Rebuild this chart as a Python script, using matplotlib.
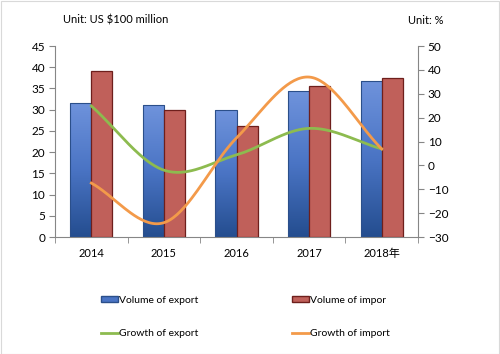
import numpy as np
import matplotlib
matplotlib.use("Agg")
import matplotlib.pyplot as plt
from matplotlib.patches import Rectangle
from matplotlib.lines import Line2D
from matplotlib.colors import LinearSegmentedColormap

plt.rcParams['font.family'] = ['Lato', 'Noto Sans CJK SC', 'DejaVu Sans']

years = ['2014', '2015', '2016', '2017', '2018年']
export_vol = [31.6, 31.1, 29.9, 34.4, 36.8]
import_vol = [39.1, 29.9, 26.1, 35.6, 37.5]
export_growth = [24.9, -2.0, 4.4, 15.5, 6.9]
import_growth = [-7.4, -24.0, 11.5, 37.0, 6.9]


def smooth(xs, ys, n=40):
    # Catmull-Rom style smoothing (like a spreadsheet "smoothed line")
    xs = np.asarray(xs, float); ys = np.asarray(ys, float)
    px = np.concatenate([[2*xs[0]-xs[1]], xs, [2*xs[-1]-xs[-2]]])
    py = np.concatenate([[2*ys[0]-ys[1]], ys, [2*ys[-1]-ys[-2]]])
    ox, oy = [], []
    for i in range(1, len(px)-2):
        t = np.linspace(0, 1, n)
        p0, p1, p2, p3 = [np.array([px[j], py[j]]) for j in (i-1, i, i+1, i+2)]
        m1 = (p2 - p0) / 2
        m2 = (p3 - p1) / 2
        h00 = 2*t**3 - 3*t**2 + 1
        h10 = t**3 - 2*t**2 + t
        h01 = -2*t**3 + 3*t**2
        h11 = t**3 - t**2
        pts = (np.outer(h00, p1) + np.outer(h10, m1) + np.outer(h01, p2) + np.outer(h11, m2))
        ox.extend(pts[:, 0]); oy.extend(pts[:, 1])
    return np.array(ox), np.array(oy)


fig = plt.figure(figsize=(5.0, 3.54), dpi=100)
ax = fig.add_axes([0.11, 0.3305, 0.726, 0.5395])
ax2 = ax.twinx()

x = np.arange(len(years))
w = 0.29
grey = '#868686'

grad = np.linspace(0, 1, 256).reshape(-1, 1)
bcmap = LinearSegmentedColormap.from_list('b', ['#244d8f', '#4a74c4', '#6f93dc'])
for xi, v in zip(x, export_vol):
    r = Rectangle((xi - w, 0), w, v, facecolor='none', edgecolor='#2b4f8a', lw=0.8, zorder=3)
    ax.add_patch(r)
    im = ax.imshow(grad, extent=[xi - w, xi, 0, v], origin='lower', cmap=bcmap,
                   aspect='auto', zorder=2)
    im.set_clip_path(r)
ax.bar(x + w/2, import_vol, w, color='#c0605a', edgecolor='#6e1f1c', lw=0.9, zorder=3)

ax.set_xlim(-0.5, len(years) - 0.5)
ax.set_ylim(0, 45)
ax.set_yticks(np.arange(0, 46, 5))
ax2.set_ylim(-30, 50)
ax2.set_yticks(np.arange(-30, 51, 10))

sx, sy = smooth(x, export_growth)
ax2.plot(sx, sy, color='#8dbb4f', lw=2.0, zorder=4)
sx, sy = smooth(x, import_growth)
ax2.plot(sx, sy, color='#f39a4a', lw=2.0, zorder=4)

ax.set_xticks(x)
ax.set_xticklabels(years)
ax.set_xticks(np.arange(-0.5, len(years), 1), minor=True)
ax.tick_params(axis='x', which='major', length=0, pad=8, labelsize=8)
ax.tick_params(axis='x', which='minor', length=4, color=grey)
ax.tick_params(axis='y', length=4, color=grey, labelsize=8.5, pad=3)
ax2.tick_params(axis='y', length=4, color=grey, labelsize=8.5, pad=3)

for a in (ax, ax2):
    a.spines['top'].set_visible(False)
    for s in ('left', 'right', 'bottom'):
        a.spines[s].set_color(grey)
ax2.spines['left'].set_visible(False)
ax.spines['right'].set_visible(False)
ax2.spines['bottom'].set_visible(False)
ax.set_zorder(1); ax2.set_zorder(2); ax2.patch.set_visible(False)

fig.text(63/500, 1 - 20/354, 'Unit: US $100 million', fontsize=8, va='center', ha='left')
fig.text(443/500, 1 - 20/354, 'Unit: %', fontsize=8, va='center', ha='right')

# legend (column-major order: first column export items, second column import items)
handles = [Rectangle((0, 0), 1, 1, facecolor='#4a74c4', edgecolor='#2b4f8a'),
           Line2D([], [], color='#8dbb4f', lw=2),
           Rectangle((0, 0), 1, 1, facecolor='#c0605a', edgecolor='#6e1f1c'),
           Line2D([], [], color='#f39a4a', lw=2)]
labels = ['Volume of export', 'Growth of export', 'Volume of impor', 'Growth of import']
leg = fig.legend(handles, labels, ncol=2, loc='center left', bbox_to_anchor=(92/500, 1 - 317/354),
                 frameon=False, fontsize=7.5, handlelength=1.6, handleheight=0.5,
                 handletextpad=0.1, columnspacing=9.0, labelspacing=2.3)

fig.patches.append(Rectangle((0.001, 0.001), 0.997, 0.997, transform=fig.transFigure,
                             fill=False, edgecolor='#d9d9d9', lw=0.8))

fig.savefig('out.png', dpi=100)
